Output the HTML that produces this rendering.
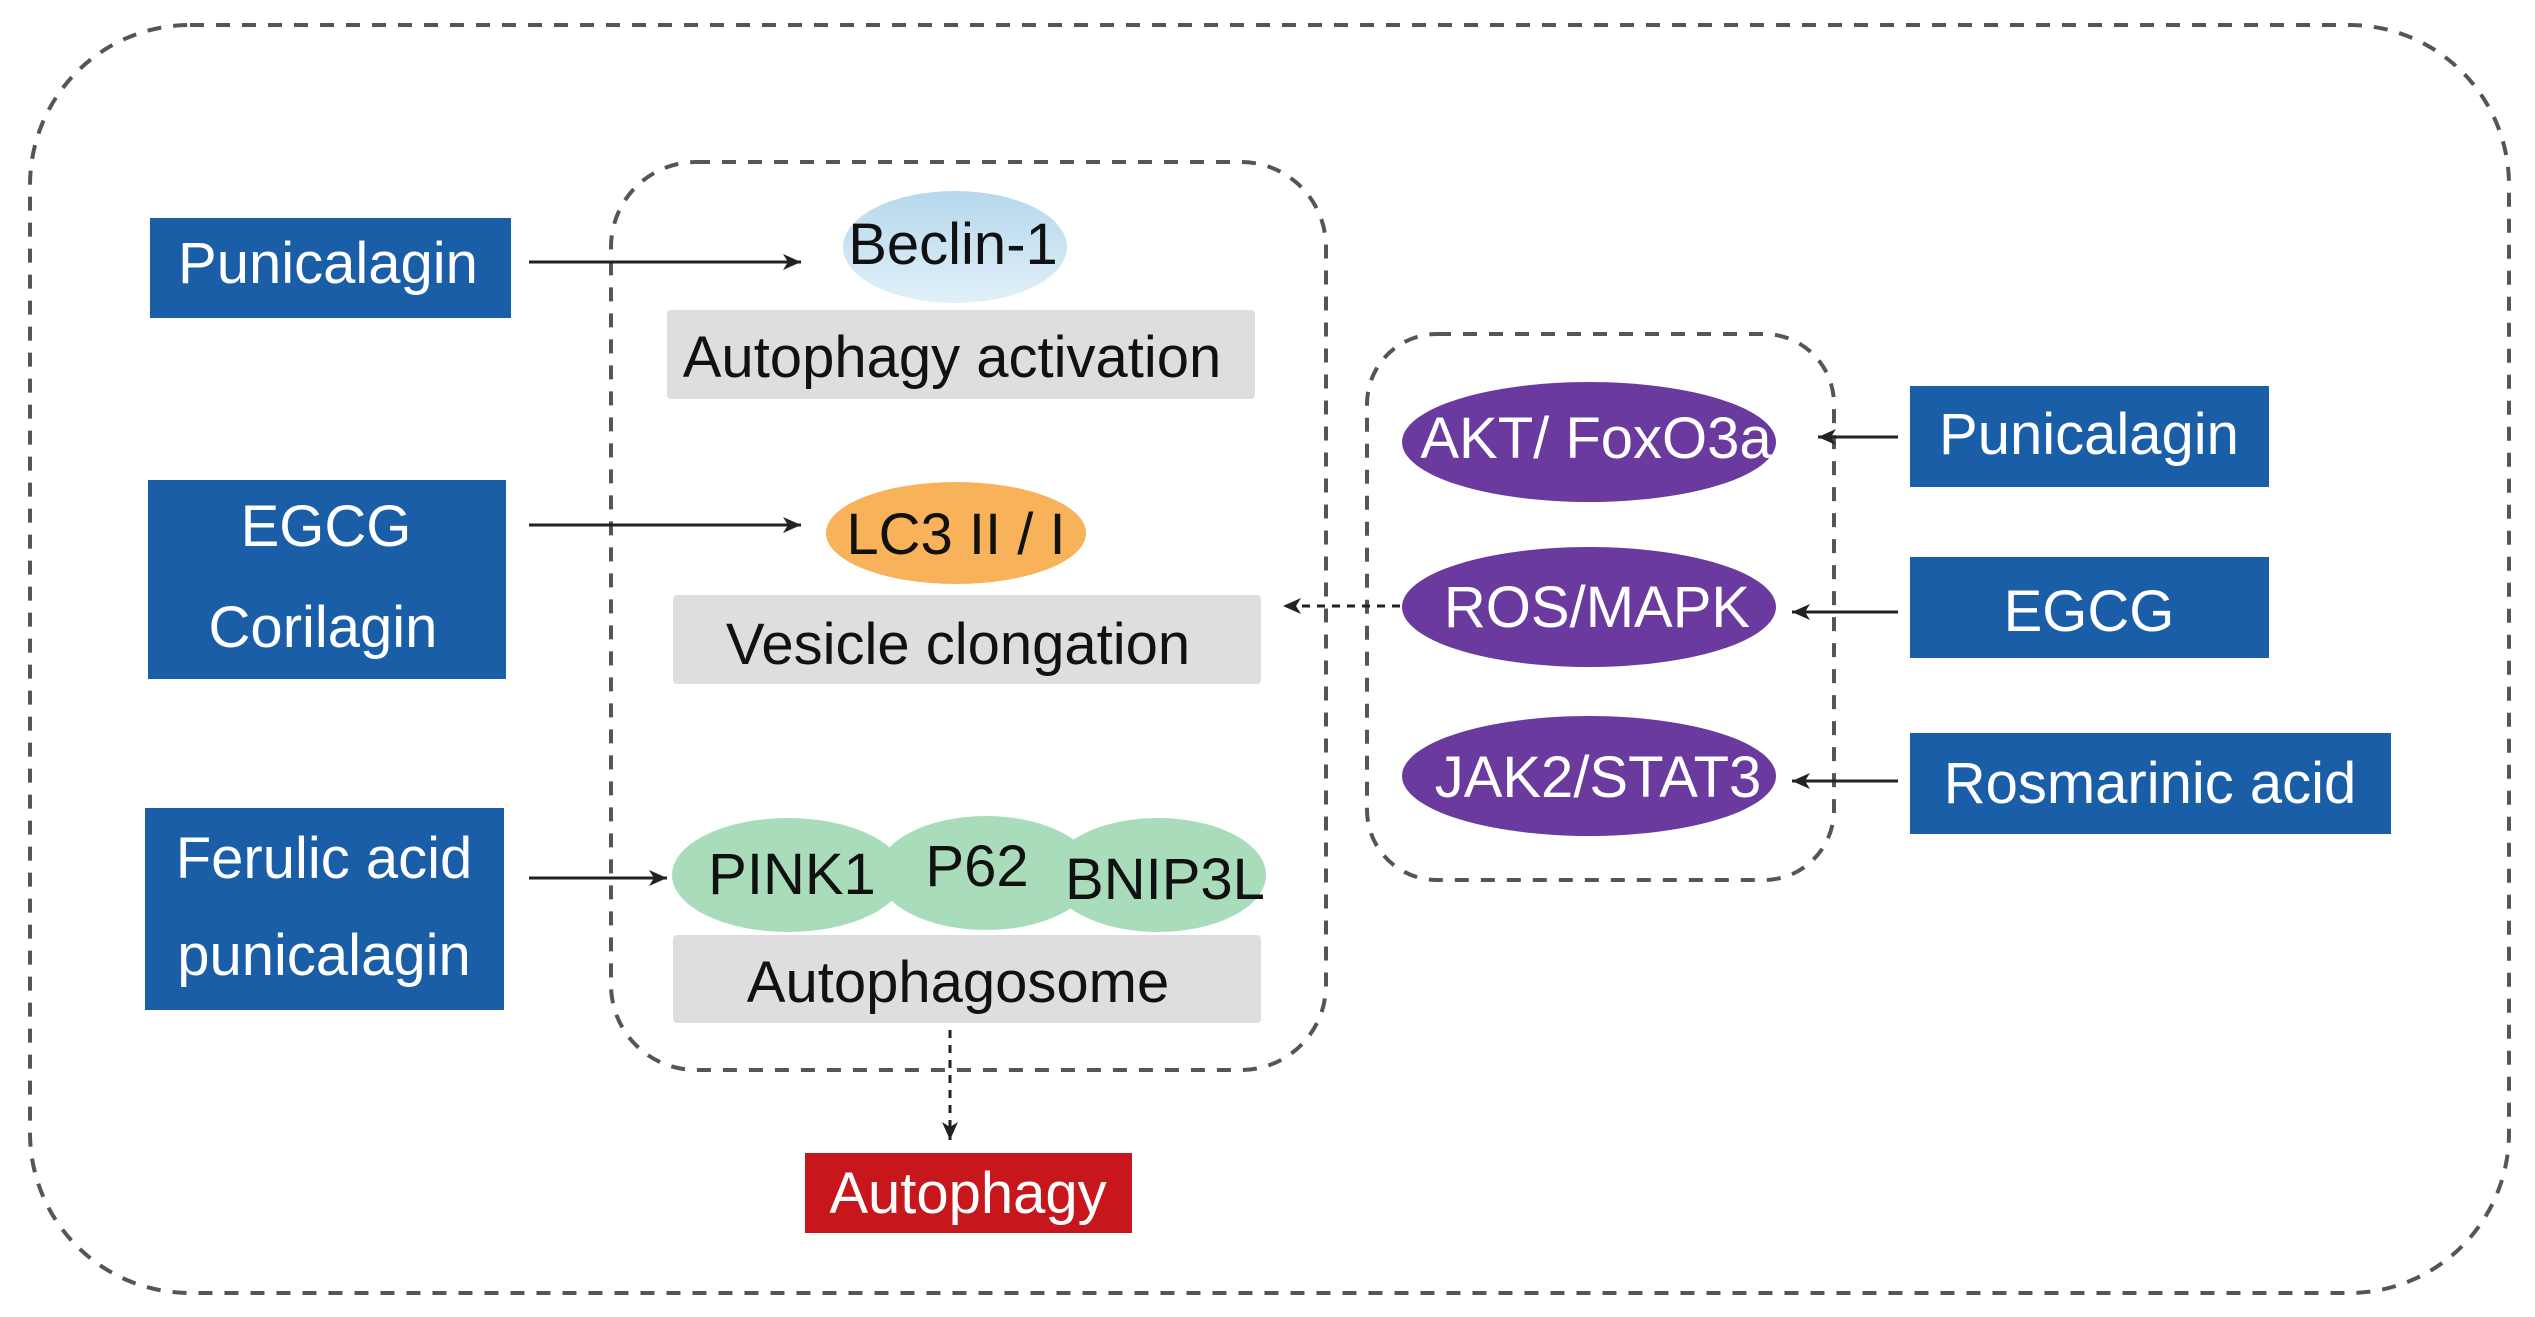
<!DOCTYPE html>
<html><head><meta charset="utf-8"><style>html,body{margin:0;padding:0;background:#fff}svg{display:block}</style></head><body>
<svg width="2535" height="1317" viewBox="0 0 2535 1317" xmlns="http://www.w3.org/2000/svg" font-family="Liberation Sans, Arial, sans-serif">
<defs>
<marker id="ah2" markerWidth="20" markerHeight="16" refX="18" refY="8" orient="auto" markerUnits="userSpaceOnUse"><path d="M0,0 L18,8 L0,16 L5,8 z" fill="#222"/></marker>
<linearGradient id="gb" x1="0" y1="0" x2="0" y2="1"><stop offset="0" stop-color="#b6d8ec"/><stop offset="1" stop-color="#e0f0f8"/></linearGradient>
</defs>
<rect x="30" y="25" width="2479" height="1268" rx="160" fill="none" stroke="#555" stroke-width="4" stroke-dasharray="14 12"/>
<rect x="611" y="162" width="715" height="908" rx="85" fill="none" stroke="#555" stroke-width="4" stroke-dasharray="14 12"/>
<rect x="1367" y="334" width="467" height="546" rx="70" fill="none" stroke="#555" stroke-width="4" stroke-dasharray="14 12"/>

<g fill="#1b5ea8">
<rect x="150" y="218" width="361" height="100"/>
<rect x="148" y="480" width="358" height="199"/>
<rect x="145" y="808" width="359" height="202"/>
<rect x="1910" y="386" width="359" height="101"/>
<rect x="1910" y="557" width="359" height="101"/>
<rect x="1910" y="733" width="481" height="101"/>
</g>
<g fill="#fff" font-size="58" text-anchor="middle">
<text x="328" y="283">Punicalagin</text>
<text x="326" y="546">EGCG</text>
<text x="323" y="647">Corilagin</text>
<text x="324" y="878">Ferulic acid</text>
<text x="324" y="975">punicalagin</text>
<text x="2089" y="454">Punicalagin</text>
<text x="2089" y="631">EGCG</text>
<text x="2150" y="803">Rosmarinic acid</text>
</g>

<g fill="#dedede">
<rect x="667" y="310" width="588" height="89" rx="4"/>
<rect x="673" y="595" width="588" height="89" rx="4"/>
<rect x="673" y="935" width="588" height="88" rx="4"/>
</g>
<g fill="#111" font-size="58" text-anchor="middle">
<text x="952" y="377">Autophagy activation</text>
<text x="958" y="664">Vesicle clongation</text>
<text x="958" y="1002">Autophagosome</text>
</g>

<ellipse cx="955" cy="247" rx="112" ry="56" fill="url(#gb)"/>
<text x="953" y="264" font-size="58" text-anchor="middle" fill="#111">Beclin-1</text>
<ellipse cx="956" cy="533" rx="130" ry="51" fill="#f8b25a"/>
<text x="956" y="554" font-size="58" text-anchor="middle" fill="#111">LC3 II / I</text>
<g fill="#a9dcbb">
<ellipse cx="1158" cy="875" rx="108" ry="57"/>
<ellipse cx="986" cy="873" rx="108" ry="57"/>
<ellipse cx="788" cy="875" rx="116" ry="57"/>
</g>
<g fill="#111" font-size="58" text-anchor="middle">
<text x="792" y="894">PINK1</text>
<text x="977" y="886">P62</text>
<text x="1165" y="899">BNIP3L</text>
</g>

<g fill="#6a3a9f">
<ellipse cx="1589" cy="442" rx="187" ry="60"/>
<ellipse cx="1589" cy="607" rx="187" ry="60"/>
<ellipse cx="1589" cy="776" rx="187" ry="60"/>
</g>
<g fill="#fff" font-size="58" text-anchor="middle">
<text x="1596" y="458">AKT/ FoxO3a</text>
<text x="1597" y="627">ROS/MAPK</text>
<text x="1598" y="797">JAK2/STAT3</text>
</g>

<rect x="805" y="1153" width="327" height="80" fill="#c8161d"/>
<text x="968" y="1213" font-size="58" text-anchor="middle" fill="#fff">Autophagy</text>

<g stroke="#222" stroke-width="3" fill="none">
<line x1="529" y1="262" x2="801" y2="262" marker-end="url(#ah2)"/>
<line x1="529" y1="525" x2="801" y2="525" marker-end="url(#ah2)"/>
<line x1="529" y1="878" x2="667" y2="878" marker-end="url(#ah2)"/>
<line x1="1898" y1="437" x2="1818" y2="437" marker-end="url(#ah2)"/>
<line x1="1898" y1="612" x2="1792" y2="612" marker-end="url(#ah2)"/>
<line x1="1898" y1="781" x2="1792" y2="781" marker-end="url(#ah2)"/>
<line x1="1400" y1="606" x2="1283" y2="606" stroke-dasharray="8 7" marker-end="url(#ah2)"/>
<line x1="950" y1="1030" x2="950" y2="1140" stroke-dasharray="8 7" marker-end="url(#ah2)"/>
</g>
</svg>
</body></html>
